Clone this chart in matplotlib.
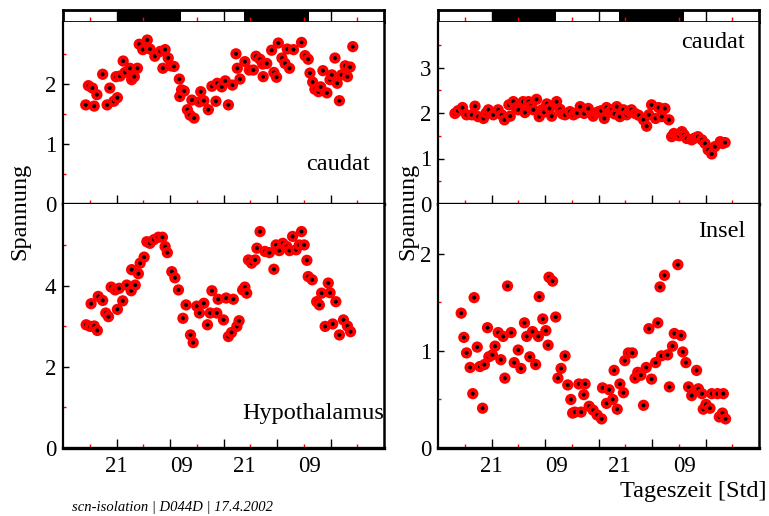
import numpy as np
import matplotlib
matplotlib.use("Agg")
import matplotlib.pyplot as plt

plt.rcParams['font.family'] = ['Liberation Serif', 'DejaVu Serif']

# time axis in hours (0 = 09:00 of day 1)
hour_major = [12, 24, 36, 48, 60]
hour_minor = [6, 18, 30, 42, 54, 66]
dark_start = [12, 40.6]
dark_end = [26.5, 55.2]
tick_pos = [12, 26.5, 40.6, 55.2]
tick_txt = ['21', '09', '21', '09']

# caudat (left column)
caudat_l_t = [5.1, 5.7, 6.6, 7.0, 7.6, 8.9, 9.9, 10.5, 11.4, 11.9, 12.2, 12.8, 13.5, 13.9, 15.0,
              15.4, 16.0, 16.7, 17.1, 17.9, 18.9, 19.5, 20.6, 21.8, 22.4, 22.9, 23.6, 24.2, 24.9, 26.1,
              26.2, 26.6, 27.2, 27.9, 28.5, 28.9, 29.4, 30.6, 30.9, 31.6, 32.6, 33.4, 34.3, 34.6, 35.6,
              36.4, 37.1, 38.0, 38.8, 39.1, 39.7, 40.8, 41.8, 42.7, 43.3, 44.2, 44.8, 44.9, 45.7, 46.8,
              47.3, 47.9, 48.3, 49.1, 49.8, 50.3, 50.8, 51.7, 53.5, 54.3, 55.0, 55.4, 56.0, 56.5, 57.3,
              57.8, 58.3, 59.2, 59.9, 60.3, 61.0, 61.5, 62.0, 62.5, 63.3, 63.8, 64.4, 65.0]
caudat_l_v = [1.65, 1.97, 1.93, 1.63, 1.82, 2.16, 1.65, 1.93, 1.71, 2.12, 1.77, 2.13, 2.38, 2.19, 2.26,
              2.07, 2.12, 2.26, 2.66, 2.57, 2.73, 2.58, 2.46, 2.54, 2.26, 2.57, 2.43, 2.30, 2.29, 2.08,
              1.79, 1.90, 1.88, 1.57, 1.48, 1.73, 1.43, 1.70, 1.87, 1.72, 1.57, 1.96, 1.71, 2.01, 1.95,
              2.05, 1.65, 1.98, 2.50, 2.26, 2.08, 2.37, 2.23, 2.23, 2.46, 2.41, 2.33, 2.12, 2.34, 2.56,
              2.19, 2.11, 2.68, 2.43, 2.34, 2.58, 2.26, 2.57, 2.69, 2.47, 2.41, 2.18, 2.03, 1.91, 1.87,
              1.95, 2.22, 1.85, 2.07, 2.15, 2.43, 2.01, 1.72, 2.15, 2.30, 2.12, 2.28, 2.62]

# Hypothalamus (left column)
hypo_t = [5.2, 6.1, 6.3, 7.0, 7.7, 7.9, 8.9, 9.6, 10.2, 10.8, 11.7, 12.2, 12.6, 13.4, 14.3,
          15.3, 15.4, 16.2, 16.9, 17.3, 18.2, 18.8, 19.5, 20.4, 21.4, 22.3, 22.9, 23.4, 24.4, 25.1,
          25.9, 26.9, 27.6, 28.6, 29.2, 30.0, 30.6, 31.6, 32.4, 33.0, 33.4, 34.5, 34.8, 36.0, 36.6,
          37.1, 37.8, 38.2, 39.0, 39.5, 40.3, 40.8, 41.2, 41.6, 42.3, 43.1, 43.5, 44.2, 45.3, 46.3,
          47.3, 47.8, 48.5, 49.3, 50.2, 50.8, 51.5, 52.3, 53.0, 53.5, 54.1, 54.7, 55.0, 55.9, 56.9,
          57.5, 58.0, 58.8, 59.5, 59.9, 60.5, 61.2, 62.0, 62.9, 63.8, 64.5]
hypo_v = [3.04, 3.00, 3.56, 3.01, 2.90, 3.74, 3.64, 3.33, 3.24, 3.97, 3.90, 3.42, 3.94, 3.63, 4.02,
          3.88, 4.40, 4.02, 4.30, 4.56, 4.71, 5.09, 5.05, 5.14, 5.20, 5.20, 4.97, 4.82, 4.35, 4.20,
          3.90, 3.20, 3.53, 2.79, 2.60, 3.50, 3.33, 3.57, 3.04, 3.33, 3.88, 3.33, 3.67, 3.16, 3.70,
          2.75, 2.85, 3.67, 3.00, 3.14, 3.90, 3.97, 3.82, 4.64, 4.56, 4.64, 4.93, 5.34, 4.85, 4.82,
          4.41, 5.01, 4.87, 5.05, 4.97, 4.87, 5.22, 4.89, 5.01, 5.34, 5.01, 4.63, 4.23, 4.15, 3.61,
          3.53, 3.82, 3.00, 4.07, 3.83, 3.06, 3.61, 2.79, 3.16, 3.01, 2.87]

# caudat (right column)
caudat_r_t = [3.8, 4.5, 5.5, 6.4, 7.6, 8.3, 9.0, 10.2, 10.8, 11.3, 12.4, 13.5, 14.3, 14.9, 15.9,
              16.2, 16.9, 17.5, 18.0, 19.1, 19.5, 20.3, 20.9, 21.4, 22.1, 22.7, 23.3, 23.8, 24.4, 25.0,
              25.5, 26.6, 27.4, 27.9, 28.5, 29.6, 30.4, 31.2, 31.9, 32.8, 33.7, 34.8, 35.4, 36.0, 36.6,
              37.3, 37.8, 38.4, 39.0, 39.6, 40.1, 40.8, 41.6, 42.3, 42.9, 43.4, 44.2, 45.0, 46.1, 46.8,
              47.3, 47.9, 48.8, 49.5, 50.2, 50.9, 51.8, 52.4, 52.9, 53.5, 54.1, 54.7, 55.2, 55.8, 56.9,
              57.6, 58.3, 59.2, 59.9, 60.6, 61.4, 62.1, 63.3, 63.8, 64.4]
caudat_r_v = [1.99, 2.05, 2.12, 1.96, 1.96, 2.15, 1.92, 1.88, 2.00, 2.07, 1.96, 2.07, 1.96, 1.85, 2.18,
              1.93, 2.25, 2.12, 2.07, 2.25, 2.01, 2.25, 2.15, 2.07, 2.30, 1.92, 2.07, 2.02, 2.20, 2.10,
              1.93, 2.25, 2.08, 1.98, 1.96, 2.03, 1.96, 2.00, 2.14, 1.99, 2.10, 1.93, 2.00, 2.03, 2.05,
              1.88, 2.12, 2.02, 2.07, 1.98, 2.14, 1.92, 2.07, 1.96, 2.04, 2.07, 1.99, 1.95, 1.85, 1.71,
              1.96, 2.18, 1.88, 2.12, 1.92, 2.10, 1.85, 1.48, 1.55, 1.52, 1.50, 1.59, 1.52, 1.44, 1.41,
              1.45, 1.48, 1.41, 1.33, 1.19, 1.10, 1.26, 1.37, 1.33, 1.35]

# Insel (right column)
insel_t = [5.2, 5.8, 6.4, 7.2, 7.8, 8.1, 8.8, 9.4, 10.0, 10.4, 11.1, 11.4, 12.2, 12.8, 13.5,
           14.1, 14.6, 15.0, 15.6, 16.4, 17.1, 18.0, 18.6, 19.4, 19.9, 20.6, 21.2, 21.9, 22.5, 22.7,
           23.5, 24.2, 24.7, 24.9, 25.7, 26.4, 26.9, 27.6, 28.5, 29.1, 29.8, 30.2, 30.7, 31.6, 32.1,
           32.7, 33.0, 33.9, 34.8, 35.7, 36.7, 36.9, 37.8, 38.4, 39.2, 39.5, 40.2, 40.8, 41.6, 41.9,
           42.7, 43.6, 44.2, 44.8, 45.5, 46.1, 46.7, 47.3, 47.9, 48.8, 49.3, 49.8, 50.1, 50.8, 51.5,
           51.9, 52.6, 53.0, 53.8, 54.5, 54.9, 55.6, 56.2, 56.9, 58.0, 58.4, 59.2, 59.5, 60.1, 61.0,
           61.4, 62.7, 63.1, 63.8, 64.0, 64.5]
insel_v = [1.39, 1.14, 0.98, 0.83, 0.56, 1.55, 1.04, 0.84, 0.41, 0.86, 1.24, 0.94, 0.96, 1.05, 1.19,
           0.91, 1.15, 0.72, 1.67, 1.19, 0.88, 1.01, 0.82, 1.29, 1.15, 0.94, 1.20, 0.86, 1.15, 1.56,
           1.33, 1.21, 1.06, 1.76, 1.72, 1.35, 0.72, 0.82, 0.95, 0.65, 0.50, 0.36, 0.37, 0.66, 0.37,
           0.55, 0.66, 0.43, 0.39, 0.34, 0.30, 0.62, 0.46, 0.60, 0.50, 0.80, 0.40, 0.66, 0.57, 0.90,
           0.98, 0.98, 0.72, 0.78, 0.75, 0.44, 0.83, 1.23, 0.71, 0.88, 1.29, 1.66, 0.95, 1.78, 0.96,
           0.63, 1.05, 1.18, 1.89, 1.16, 0.99, 0.88, 0.63, 0.54, 0.80, 0.61, 0.56, 0.40, 0.45, 0.41,
           0.56, 0.56, 0.32, 0.36, 0.56, 0.30]

TICK_FS = 16.5
LABEL_FS = 17.5
W, H = 769, 516
fig = plt.figure(figsize=(W / 100, H / 100), dpi=100)


def px_rect(x0, y0, x1, y1):
    return [x0 / W, 1 - y1 / H, (x1 - x0) / W, (y1 - y0) / H]


def light_bar(x0):
    ax = fig.add_axes(px_rect(x0, 10, x0 + 321, 22))
    ax.set_xlim(0, 72)
    ax.set_ylim(0, 1)
    for a, b in zip(dark_start, dark_end):
        ax.axvspan(a, b, color='black', lw=0)
    ax.set_yticks([])
    ax.set_xticks(hour_major, [''] * len(hour_major))
    ax.set_xticks(hour_minor, minor=True)
    ax.tick_params(axis='x', which='major', direction='in', length=8.6, width=1.0, color='black')
    ax.tick_params(axis='x', which='minor', direction='in', length=3.5, width=1.0, color='red')
    for s in ax.spines.values():
        s.set_linewidth(2.0)


def panel(x0, y0, y1, t, v, ylim, yticks, yminor, label, lx, ly, bottom):
    ax = fig.add_axes(px_rect(x0, y0, x0 + 321, y1))
    n = len(t)
    tt = np.repeat(t, 2)
    vv = np.repeat(v, 2)
    sizes = np.tile([66, 8], n)
    cols = ['red', 'black'] * n
    ax.scatter(tt, vv, s=sizes, c=cols, linewidths=0, zorder=3)
    ax.set_xlim(0, 72)
    ax.set_ylim(*ylim)
    ax.set_xticks(hour_major, [''] * len(hour_major))
    ax.set_xticks(hour_minor, minor=True)
    ax.set_yticks(yticks)
    ax.set_yticks(yminor, minor=True)
    ax.tick_params(axis='x', which='major', direction='in', length=6.5, width=1.0, color='black')
    ax.tick_params(axis='x', which='minor', direction='in', length=3, width=1.0, color='red')
    ax.tick_params(axis='y', which='major', direction='in', length=4, width=1.0, color='black',
                   labelsize=TICK_FS, pad=5)
    ax.tick_params(axis='y', which='minor', direction='in', length=2.5, width=1.0, color='red')
    ax.spines['top'].set_visible(False)
    ax.spines['bottom'].set_linewidth(2.4)
    ax.spines['left'].set_linewidth(1.6)
    ax.spines['right'].set_linewidth(1.8)
    ax.text(lx, ly, label, transform=ax.transAxes, ha='right', va='center', fontsize=LABEL_FS)
    if bottom:
        sec = ax.secondary_xaxis('bottom')
        sec.set_xticks(tick_pos, tick_txt)
        sec.tick_params(length=0, pad=6, labelsize=TICK_FS)
        sec.spines['bottom'].set_visible(False)
    return ax


for x0 in (63, 438):
    light_bar(x0)

panel(63, 22, 204, caudat_l_t, caudat_l_v, (0, 3.03), [0, 1, 2], [0.5, 1.5, 2.5],
      'caudat', 0.956, 0.215, False)
panel(63, 204, 448, hypo_t, hypo_v, (0, 6.02), [0, 2, 4], [1, 3, 5],
      'Hypothalamus', 1.0, 0.143, True)
panel(438, 22, 204, caudat_r_t, caudat_r_v, (0, 4.0), [0, 1, 2, 3], [0.5, 1.5, 2.5, 3.5],
      'caudat', 0.956, 0.885, False)
panel(438, 204, 448, insel_t, insel_v, (0, 2.515), [0, 1, 2], [0.5, 1.5],
      'Insel', 0.959, 0.886, True)

fig.text(20 / W, 1 - 211 / H, 'Spannung', rotation=90, ha='center', va='center', fontsize=LABEL_FS)
fig.text(408 / W, 1 - 211 / H, 'Spannung', rotation=90, ha='center', va='center', fontsize=LABEL_FS)
fig.text(766 / W, 1 - 492 / H, 'Tageszeit [Std]', ha='right', va='center', fontsize=LABEL_FS)
fig.text(72 / W, 1 - 508 / H, 'scn-isolation | D044D | 17.4.2002', ha='left', va='center',
         fontsize=10.5, style='italic')

fig.savefig('out.png', dpi=100)
